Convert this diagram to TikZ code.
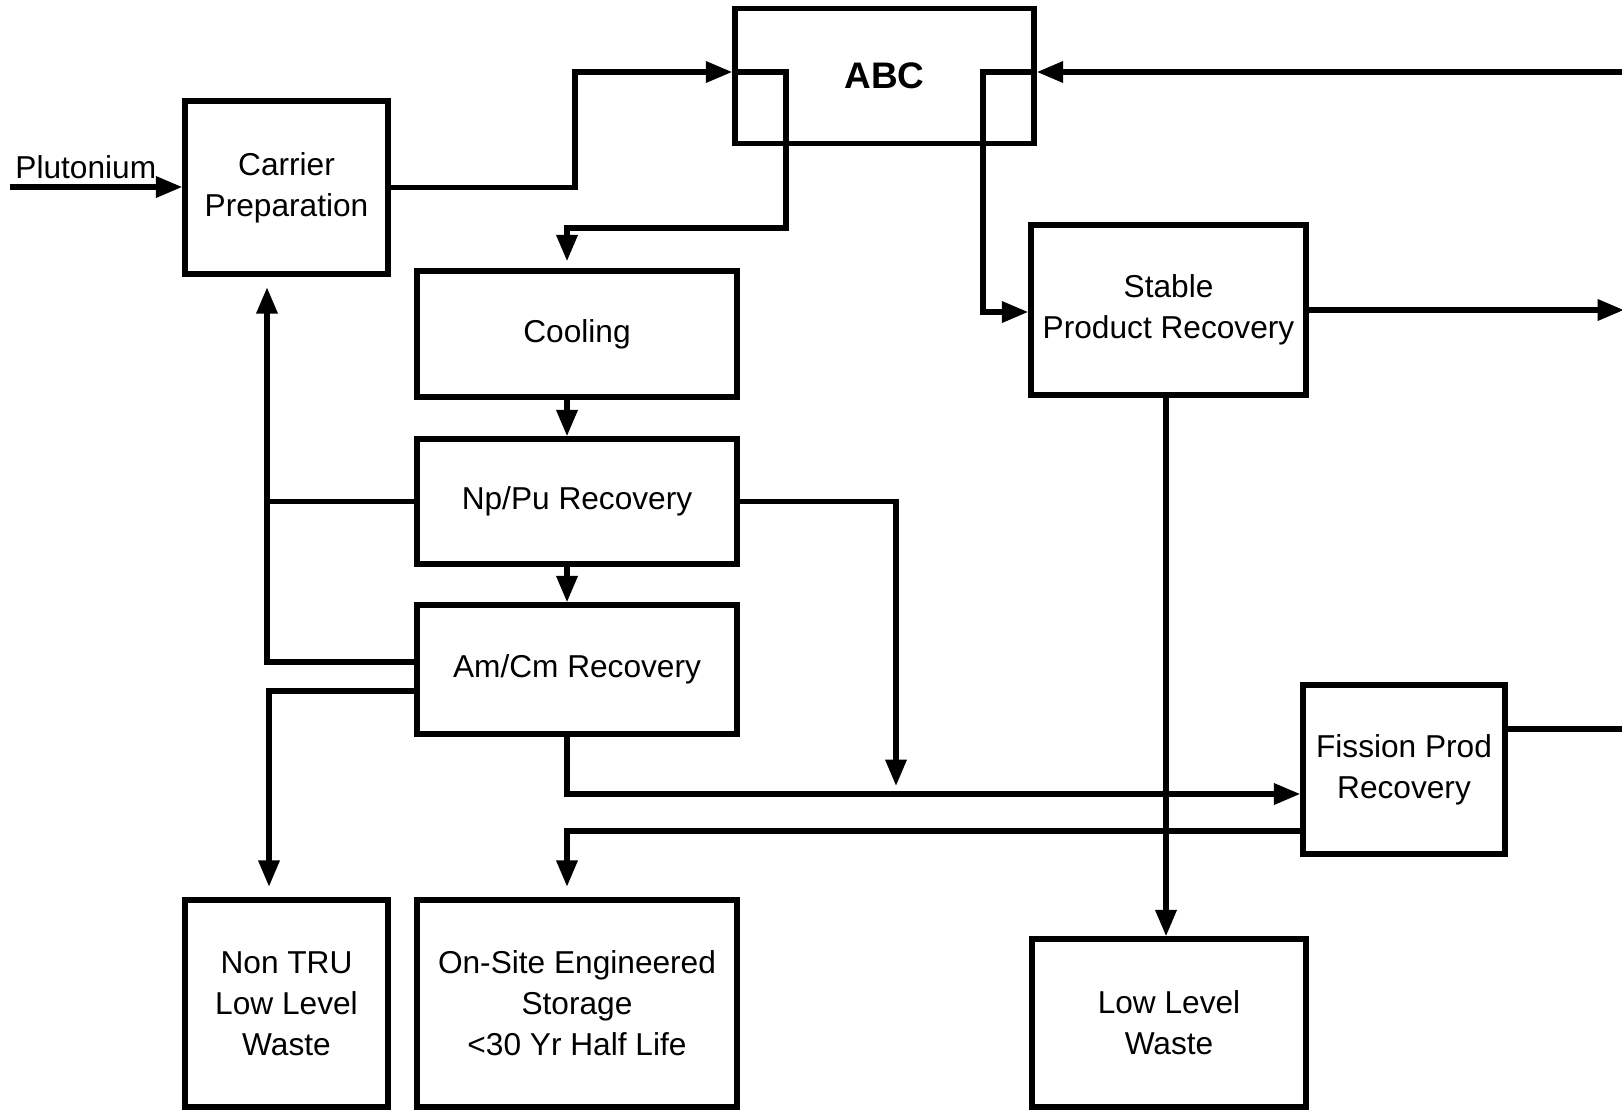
\documentclass[tikz,border=0pt]{standalone}
\usepackage{fontspec}
\setmainfont{Liberation Sans}
\usetikzlibrary{arrows.meta}
\begin{document}
\begin{tikzpicture}[x=0.01cm, y=-0.01cm, line width=1.5pt,
  font=\fontsize{9}{11.7}\selectfont,
  unit/.style={draw, rectangle, align=center, inner sep=0pt},
  flow/.style={-{Triangle[length=7.5pt, width=5.8pt]}}]
  \useasboundingbox (0,0) rectangle (1622,1109);
  \node[unit, minimum width=2.03cm, minimum height=1.73cm] (carrier) at (286.5,187.5) {Carrier\\Preparation};
  \node[unit, minimum width=2.99cm, minimum height=1.35cm, font=\fontsize{10.5}{12}\selectfont\bfseries] (abc) at (884.5,76) {ABC};
  \node[unit, minimum width=2.75cm, minimum height=1.70cm] (spr) at (1168.5,310) {Stable\\Product Recovery};
  \node[unit, minimum width=3.20cm, minimum height=1.26cm] (cool) at (577,334) {Cooling};
  \node[unit, minimum width=3.20cm, minimum height=1.25cm] (np) at (577,501.5) {Np/Pu Recovery};
  \node[unit, minimum width=3.20cm, minimum height=1.29cm] (am) at (577,669.5) {Am/Cm Recovery};
  \node[unit, minimum width=2.02cm, minimum height=1.69cm] (fis) at (1404,769.5) {Fission Prod\\Recovery};
  \node[unit, minimum width=2.03cm, minimum height=2.07cm] (nontru) at (286.5,1003.5) {Non TRU\\Low Level\\Waste};
  \node[unit, minimum width=3.20cm, minimum height=2.07cm] (onsite) at (577,1003.5) {On-Site Engineered\\Storage\\<30 Yr Half Life};
  \node[unit, minimum width=2.74cm, minimum height=1.68cm] (llw) at (1169,1023) {Low Level\\Waste};

  \coordinate (pu) at (10,187);
  \coordinate (top) at (0,72);
  \coordinate (lane) at (567,0);
  \coordinate (ret) at (267,0);
  \coordinate (rtop) at (1622,72);
  \coordinate (out1) at (1624,310);
  \coordinate (out2) at (1622,729);

  \draw[flow] (pu) -- node[above, inner sep=1.5pt, pos=0.44] (pulabel) {Plutonium} (carrier.west |- pu);
  \draw[flow] (carrier.east) -| (575,72) -- (abc.west |- top);
  \draw[flow, shorten >=2pt] (abc.west |- top) -| (786,228) -| (cool.north -| lane);
  \draw[flow] (rtop) -- (abc.east |- top);
  \draw[flow] (abc.east |- top) -| (983,312) -- (spr.west |- 0,312);
  \draw[flow] (spr.east) -- (out1);
  \draw[flow] (spr.south -| 1166,0) -- (llw.north -| 1166,0);
  \draw[flow] (cool.south -| lane) -- (np.north -| lane);
  \draw[flow] (np.south -| lane) -- (am.north -| lane);
  \draw (np.west) -- (np.west -| ret);
  \draw[flow, shorten >=3pt] (am.west |- 0,662) -| (carrier.south -| ret);
  \draw[flow, shorten >=3pt] (am.west |- 0,691) -| (nontru.north -| 269,0);
  \draw[flow] (np.east) -| (896,786);
  \draw[flow] (am.south -| lane) |- (fis.west |- 0,794);
  \draw[flow, shorten >=3pt] (fis.west |- 0,831) -| (onsite.north -| lane);
  \draw (fis.east |- out2) -- (out2);
\end{tikzpicture}
\end{document}
